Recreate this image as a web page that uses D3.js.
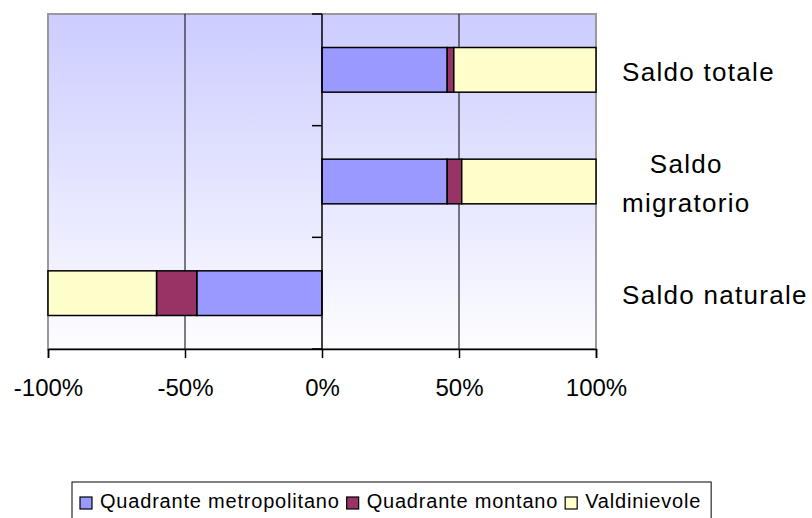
<!DOCTYPE html>
<html>
<head>
<meta charset="utf-8">
<script src="https://cdn.jsdelivr.net/npm/d3@7"></script>
<style>
  body { margin: 0; background: #fff; }
  text { font-family: "Liberation Sans", Arial, sans-serif; fill: #000; }
</style>
</head>
<body>
<div id="vis"></div>
<script>
var categories = ["Saldo totale", "Saldo\nmigratorio", "Saldo naturale"],
    seriesNames = ["Quadrante metropolitano", "Quadrante montano", "Valdinievole"],
    metropolitano = [45.7, 45.7, -45.7],
    montano = [2.4, 5.3, -14.7],
    valdinievole = [51.9, 49.0, -39.6],
    xTicks = [-100, -50, 0, 50, 100],
    colors = ["#9999ff", "#993366", "#ffffcc"];

var W = 812, H = 518;
var svg = d3.select("#vis").append("svg").attr("width", W).attr("height", H);

var rows = categories.map(function (c, i) {
  return { cat: c, s0: metropolitano[i], s1: montano[i], s2: valdinievole[i] };
});
var stacked = d3.stack().keys(["s0", "s1", "s2"]).offset(d3.stackOffsetDiverging)(rows);

var x = d3.scaleLinear().domain([-100, 100]).range([48, 596]),
    y = d3.scaleBand().domain(categories).range([14, 349]).paddingInner(0.6).paddingOuter(0.3);

// plot background gradient
var grad = svg.append("defs").append("linearGradient").attr("id", "bg")
    .attr("x1", 0).attr("y1", 0).attr("x2", 0).attr("y2", 1);
grad.append("stop").attr("offset", "0%").attr("stop-color", "#ccccff");
grad.append("stop").attr("offset", "100%").attr("stop-color", "#fdfdff");

svg.append("rect").attr("x", x(-100)).attr("y", 14).attr("width", x(100) - x(-100)).attr("height", 335)
    .attr("fill", "url(#bg)").attr("stroke", "#999").attr("stroke-width", 2);

// vertical gridlines
svg.selectAll(".grid").data([-50, 50]).enter().append("line")
    .attr("x1", function (d) { return x(d); }).attr("x2", function (d) { return x(d); })
    .attr("y1", 14).attr("y2", 349).attr("stroke", "#000").attr("stroke-width", 1);

// bars
svg.selectAll(".series").data(stacked).enter().append("g")
    .attr("fill", function (d, i) { return colors[i]; })
    .selectAll("rect").data(function (d) { return d; }).enter().append("rect")
    .attr("x", function (d) { return x(Math.min(d[0], d[1])); })
    .attr("width", function (d) { return Math.abs(x(d[1]) - x(d[0])); })
    .attr("y", function (d) { return y(d.data.cat); })
    .attr("height", y.bandwidth())
    .attr("stroke", "#000").attr("stroke-width", 1.5);

// y axis at zero
var yAxis = svg.append("g");
yAxis.append("line").attr("x1", x(0)).attr("x2", x(0)).attr("y1", 14).attr("y2", 349)
    .attr("stroke", "#000").attr("stroke-width", 1.5);
var bounds = categories.map(function (c) { return y(c) - y.step() * y.paddingOuter(); });
bounds.push(349);
yAxis.selectAll(".yt").data(bounds).enter().append("line")
    .attr("x1", x(0) - 10).attr("x2", x(0))
    .attr("y1", function (d) { return d; }).attr("y2", function (d) { return d; })
    .attr("stroke", "#000").attr("stroke-width", 1.5);

// x axis
var xAxis = svg.append("g").attr("transform", "translate(0,349)")
    .call(d3.axisBottom(x).tickValues(xTicks).tickSize(9).tickFormat(function (d) { return d + "%"; }));
xAxis.select(".domain").attr("stroke", "#000").attr("stroke-width", 1.5);
xAxis.selectAll(".tick line").attr("stroke", "#000").attr("stroke-width", 1.5);
xAxis.selectAll(".tick text").attr("font-size", 24).attr("font-family", "Liberation Sans, Arial, sans-serif")
    .attr("fill", "#000").attr("dy", null).attr("y", 47);

// category labels on the right
categories.forEach(function (c) {
  var lines = c.split("\n"),
      cy = y(c) + y.bandwidth() / 2,
      g = svg.append("g");
  var t = g.selectAll("text").data(lines).enter().append("text")
      .attr("font-size", 26).attr("letter-spacing", 1.3).attr("text-anchor", "middle")
      .attr("y", function (d, i) { return cy + 11 - (lines.length - 1) * 19.2 + i * 38.4; })
      .text(function (d) { return d; });
  var w = d3.max(t.nodes(), function (n) { return n.getComputedTextLength(); });
  t.attr("x", 622 + w / 2);
});

// legend
var legend = svg.append("g").attr("transform", "translate(72,482)");
var lbox = legend.append("rect").attr("fill", "#fff").attr("stroke", "#000").attr("stroke-width", 1);
var lx = 8;
seriesNames.forEach(function (name, i) {
  legend.append("rect").attr("x", lx).attr("y", 15).attr("width", 12).attr("height", 12)
      .attr("fill", colors[i]).attr("stroke", "#000").attr("stroke-width", 1.2);
  var t = legend.append("text").attr("x", lx + 20).attr("y", 26).attr("font-size", 20)
      .attr("letter-spacing", 0.8).text(name);
  lx += 20 + t.node().getComputedTextLength() + 7;
});
lbox.attr("x", 0).attr("y", 0).attr("width", lx + 3).attr("height", 50);
</script>
</body>
</html>
